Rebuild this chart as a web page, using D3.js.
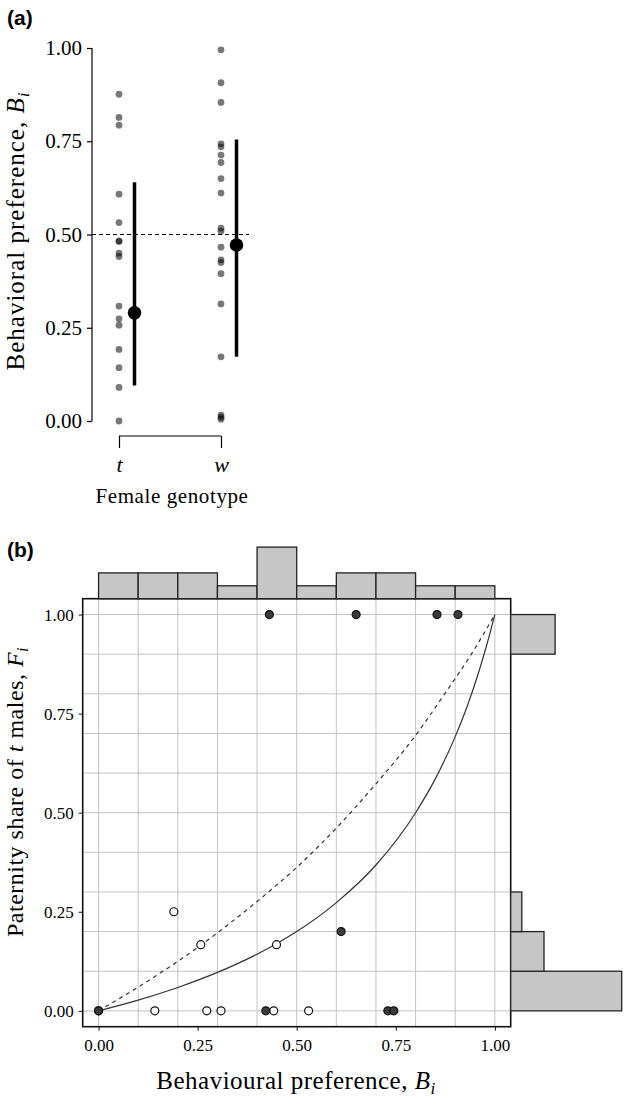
<!DOCTYPE html>
<html><head><meta charset="utf-8">
<script src="https://cdn.jsdelivr.net/npm/d3@7"></script>
<style>body{margin:0;background:#fff}svg{display:block}</style>
</head><body><div id="chart"></div>
<script>
// ---------- Panel (a) data ----------
const genotypes = ["t", "w"];
const tValues = [0.876, 0.814, 0.793, 0.608, 0.532, 0.483, 0.481, 0.450, 0.441, 0.308, 0.274, 0.257, 0.192, 0.143, 0.090, 0.000];
const wValues = [0.995, 0.907, 0.854, 0.743, 0.735, 0.713, 0.693, 0.650, 0.611, 0.517, 0.509, 0.466, 0.432, 0.425, 0.395, 0.314, 0.172, 0.016, 0.010, 0.005];
const groupMeans = [0.290, 0.472];
const groupLow = [0.095, 0.172];
const groupHigh = [0.640, 0.755];
const refLevel = 0.5;
const aTicks = [0, 0.25, 0.5, 0.75, 1];

// ---------- Panel (b) data ----------
const filledB = [0.000, 0.422, 0.431, 0.612, 0.650, 0.730, 0.745, 0.854, 0.907];
const filledF = [0.000, 0.000, 1.000, 0.200, 1.000, 0.000, 0.000, 1.000, 1.000];
const openB = [0.000, 0.142, 0.190, 0.258, 0.273, 0.309, 0.442, 0.449, 0.530];
const openF = [0.000, 0.000, 0.250, 0.167, 0.000, 0.000, 0.000, 0.167, 0.000];
const solidCurveB = [0, 0.1, 0.2, 0.3, 0.4, 0.45, 0.5, 0.6, 0.7, 0.8, 0.85, 0.9, 0.93, 0.96, 0.98, 1];
const solidCurveF = [0, 0.027, 0.059, 0.097, 0.143, 0.170, 0.200, 0.273, 0.368, 0.500, 0.586, 0.692, 0.768, 0.857, 0.925, 1];
const dashCurveB = [0, 0.1, 0.2, 0.26, 0.3, 0.4, 0.5, 0.6, 0.7, 0.8, 0.87, 0.94, 1];
const dashCurveF = [0, 0.060, 0.125, 0.167, 0.197, 0.276, 0.362, 0.461, 0.573, 0.695, 0.795, 0.899, 1];
const binEdges = [0, 0.1, 0.2, 0.3, 0.4, 0.5, 0.6, 0.7, 0.8, 0.9, 1.0];
const topCounts = [2, 2, 2, 1, 4, 1, 2, 2, 1, 1];
const rightCounts = [10, 3, 1, 0, 0, 0, 0, 0, 0, 4];
const bTicks = [0, 0.25, 0.5, 0.75, 1];
const gridTicks = [0, 0.1, 0.2, 0.3, 0.4, 0.5, 0.6, 0.7, 0.8, 0.9, 1.0];

const W = 625, H = 1100;
const serif = "Liberation Serif, DejaVu Serif, serif";
const svg = d3.select("#chart").append("svg").attr("width", W).attr("height", H);

// ===== Panel (a) =====
svg.append("text").attr("x", 7).attr("y", 25).attr("font-family", "Liberation Sans, Arial, sans-serif")
  .attr("font-weight", "bold").attr("font-size", 21).text("(a)");

const ax = d3.scalePoint().domain(genotypes).range([119, 221]);
const ay = d3.scaleLinear().domain([0, 1]).range([421, 48]);
const ga = svg.append("g");

const yAxA = ga.append("g").attr("transform", "translate(92,0)")
  .call(d3.axisLeft(ay).tickValues(aTicks).tickFormat(d3.format(".2f")).tickSize(5).tickPadding(5));
yAxA.select(".domain").attr("stroke", "#000").attr("stroke-width", 1.2).attr("d", `M0,${ay(1)}V${ay(0)}`);
yAxA.selectAll(".tick line").attr("stroke", "#000").attr("stroke-width", 1.2);
yAxA.selectAll(".tick text").attr("font-family", serif).attr("font-size", 21).attr("fill", "#000");

// bracket x axis
const xAxA = ga.append("g").attr("transform", "translate(0,436)")
  .call(d3.axisBottom(ax).tickSize(12).tickPadding(8).tickSizeOuter(0));
xAxA.select(".domain").attr("stroke", "#000").attr("stroke-width", 1.2).attr("d", `M${ax("t")},0H${ax("w")}`);
xAxA.selectAll(".tick line").attr("stroke", "#000").attr("stroke-width", 1.2);
xAxA.selectAll(".tick text").attr("font-family", serif).attr("font-size", 22).attr("font-style", "italic").attr("fill", "#000");

ga.append("text").attr("x", 172).attr("y", 503).attr("text-anchor", "middle")
  .attr("font-family", serif).attr("font-size", 21).attr("letter-spacing", 0.6).text("Female genotype");

const ylabA = ga.append("text").attr("transform", "translate(24,231) rotate(-90)").attr("text-anchor", "middle")
  .attr("font-family", serif).attr("font-size", 25).attr("letter-spacing", 1);
ylabA.append("tspan").text("Behavioral preference, ");
ylabA.append("tspan").attr("font-style", "italic").text("B");
ylabA.append("tspan").attr("font-style", "italic").attr("font-size", 17).attr("dy", 5).text("i");

// dashed reference
ga.append("line").attr("x1", 92).attr("x2", 249).attr("y1", ay(refLevel)).attr("y2", ay(refLevel))
  .attr("stroke", "#000").attr("stroke-width", 1).attr("stroke-dasharray", "4,3");

const groups = [tValues, wValues];
groups.forEach((vals, gi) => {
  ga.selectAll(null).data(vals).enter().append("circle")
    .attr("cx", ax(genotypes[gi])).attr("cy", d => ay(d)).attr("r", 3.4)
    .attr("fill", "#000").attr("fill-opacity", 0.53);
});
genotypes.forEach((g, gi) => {
  const cx = ax(g) + 15.5;
  ga.append("line").attr("x1", cx).attr("x2", cx).attr("y1", ay(groupLow[gi])).attr("y2", ay(groupHigh[gi]))
    .attr("stroke", "#000").attr("stroke-width", 3.5);
  ga.append("circle").attr("cx", cx).attr("cy", ay(groupMeans[gi])).attr("r", 6.8).attr("fill", "#000");
});

// ===== Panel (b) =====
svg.append("text").attr("x", 7).attr("y", 557).attr("font-family", "Liberation Sans, Arial, sans-serif")
  .attr("font-weight", "bold").attr("font-size", 21).text("(b)");

const L = 82.7, R = 510.7, T = 598.7, B = 1026.7;
const bx = d3.scaleLinear().domain([-0.04, 1.04]).range([L, R]);
const by = d3.scaleLinear().domain([-0.04, 1.04]).range([B, T]);
const gb = svg.append("g");

// grid
gb.selectAll(null).data(gridTicks).enter().append("line")
  .attr("x1", d => bx(d)).attr("x2", d => bx(d)).attr("y1", T).attr("y2", B)
  .attr("stroke", "#c4c4c4").attr("stroke-width", 1);
gb.selectAll(null).data(gridTicks).enter().append("line")
  .attr("y1", d => by(d)).attr("y2", d => by(d)).attr("x1", L).attr("x2", R)
  .attr("stroke", "#c4c4c4").attr("stroke-width", 1);

// curves
const solidPts = solidCurveB.map((b, i) => [b, solidCurveF[i]]);
const dashPts = dashCurveB.map((b, i) => [b, dashCurveF[i]]);
const lineGen = d3.line().x(d => bx(d[0])).y(d => by(d[1])).curve(d3.curveMonotoneX);
gb.append("path").attr("d", lineGen(dashPts)).attr("fill", "none").attr("stroke", "#333")
  .attr("stroke-width", 1.2).attr("stroke-dasharray", "4,4");
gb.append("path").attr("d", lineGen(solidPts)).attr("fill", "none").attr("stroke", "#333").attr("stroke-width", 1.2);

// points
gb.selectAll(null).data(openB.map((b, i) => [b, openF[i]])).enter().append("circle")
  .attr("cx", d => bx(d[0])).attr("cy", d => by(d[1])).attr("r", 4)
  .attr("fill", "#fff").attr("stroke", "#111").attr("stroke-width", 1.2);
gb.selectAll(null).data(filledB.map((b, i) => [b, filledF[i]])).enter().append("circle")
  .attr("cx", d => bx(d[0])).attr("cy", d => by(d[1])).attr("r", 4)
  .attr("fill", "#3a3a3a").attr("stroke", "#111").attr("stroke-width", 1.2);

// border
gb.append("rect").attr("x", L).attr("y", T).attr("width", R - L).attr("height", B - T)
  .attr("fill", "none").attr("stroke", "#111").attr("stroke-width", 1.6);

// axes
const yAxB = gb.append("g").attr("transform", `translate(${L},0)`)
  .call(d3.axisLeft(by).tickValues(bTicks).tickFormat(d3.format(".2f")).tickSize(4).tickPadding(5));
yAxB.select(".domain").remove();
yAxB.selectAll(".tick line").attr("stroke", "#111").attr("stroke-width", 1);
yAxB.selectAll(".tick text").attr("font-family", serif).attr("font-size", 17).attr("fill", "#000");

const xAxB = gb.append("g").attr("transform", `translate(0,${B})`)
  .call(d3.axisBottom(bx).tickValues(bTicks).tickFormat(d3.format(".2f")).tickSize(4).tickPadding(8));
xAxB.select(".domain").remove();
xAxB.selectAll(".tick line").attr("stroke", "#111").attr("stroke-width", 1);
xAxB.selectAll(".tick text").attr("font-family", serif).attr("font-size", 17).attr("fill", "#000");

const ylabB = gb.append("text").attr("transform", "translate(23,792) rotate(-90)").attr("text-anchor", "middle")
  .attr("font-family", serif).attr("font-size", 24).attr("letter-spacing", 0.5);
ylabB.append("tspan").text("Paternity share of ");
ylabB.append("tspan").attr("font-style", "italic").text("t");
ylabB.append("tspan").text(" males, ");
ylabB.append("tspan").attr("font-style", "italic").text("F");
ylabB.append("tspan").attr("font-style", "italic").attr("font-size", 16).attr("dy", 5).text("i");

const xlabB = gb.append("text").attr("x", 296).attr("y", 1089).attr("text-anchor", "middle")
  .attr("font-family", serif).attr("font-size", 25).attr("letter-spacing", 0.5);
xlabB.append("tspan").text("Behavioural preference, ");
xlabB.append("tspan").attr("font-style", "italic").text("B");
xlabB.append("tspan").attr("font-style", "italic").attr("font-size", 17).attr("dy", 5).text("i");

// histograms
const topUnit = 12.9, rightUnit = 11.1;
const topBins = topCounts.map((c, i) => ({x0: binEdges[i], x1: binEdges[i + 1], c}));
gb.selectAll(null).data(topBins).enter().append("rect")
  .attr("x", d => bx(d.x0)).attr("width", d => bx(d.x1) - bx(d.x0))
  .attr("y", d => T - d.c * topUnit).attr("height", d => d.c * topUnit)
  .attr("fill", "#c6c6c6").attr("stroke", "#222").attr("stroke-width", 1.3);
const rightBins = rightCounts.map((c, i) => ({y0: binEdges[i], y1: binEdges[i + 1], c})).filter(d => d.c > 0);
gb.selectAll(null).data(rightBins).enter().append("rect")
  .attr("x", R).attr("width", d => d.c * rightUnit)
  .attr("y", d => by(d.y1)).attr("height", d => by(d.y0) - by(d.y1))
  .attr("fill", "#c6c6c6").attr("stroke", "#222").attr("stroke-width", 1.3);
</script>
</body></html>
